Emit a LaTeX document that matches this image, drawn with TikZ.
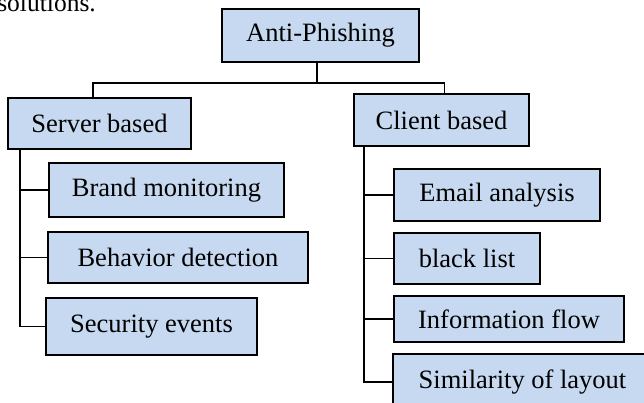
\documentclass[tikz,border=0pt]{standalone}
\usepackage{fontspec}
\setmainfont{Liberation Serif}
\usetikzlibrary{positioning}
\definecolor{boxblue}{RGB}{198,217,240}
\tikzstyle{cat_box}=[draw=black, fill=boxblue, line width=2pt, inner sep=0pt,
    font=\fontsize{26.5}{28}\selectfont]
\tikzstyle{tree_line}=[line width=1.8pt]

\begin{document}
\begin{tikzpicture}[x=1pt,y=-1pt]
\useasboundingbox (0,0) rectangle (644,402);
\clip (0,0) rectangle (644,402);
\node[anchor=base east, inner sep=0pt, font=\fontsize{25.5}{28}\selectfont] (sol) at (96,11){solutions.};
\node[cat_box, minimum width=197pt, minimum height=53pt] (anti) at (320.5,35){Anti-Phishing};
\node[cat_box, minimum width=183pt, minimum height=51pt] (server) at (99.5,123.5){Server based};
\node[cat_box, minimum width=175pt, minimum height=52pt] (client) at (441.5,120){Client based};
\node[cat_box, minimum width=235pt, minimum height=54pt] (brand) at (166.5,190){Brand monitoring};
\node[cat_box, minimum width=260pt, minimum height=51pt] (behav) at (178,257.5){Behavior detection};
\node[cat_box, minimum width=211pt, minimum height=57pt] (secur) at (151.5,326.5){Security events};
\node[cat_box, minimum width=206pt, minimum height=52pt] (email) at (497,195){Email analysis};
\node[cat_box, minimum width=146pt, minimum height=51pt] (black) at (467,258.5){black list};
\node[cat_box, minimum width=230pt, minimum height=46pt] (info) at (509,319){Information flow};
\node[cat_box, minimum width=259pt, minimum height=56pt] (simil) at (522.5,382){Similarity of layout};
\coordinate (fork) at (317,83);
\draw[tree_line] ([xshift=-3.5pt]anti.south) -- (fork);
\draw[tree_line] ([xshift=-6.5pt]server.north) |- (fork) -| ([xshift=3pt]client.north);
\draw[tree_line] ([xshift=13pt]server.south west) |- (brand.west);
\draw[tree_line] ([xshift=13pt]server.south west) |- (behav.west);
\draw[tree_line] ([xshift=13pt]server.south west) |- (secur.west);
\draw[tree_line] ([xshift=11pt]client.south west) |- (email.west);
\draw[tree_line] ([xshift=11pt]client.south west) |- (black.west);
\draw[tree_line] ([xshift=11pt]client.south west) |- (info.west);
\draw[tree_line] ([xshift=11pt]client.south west) |- (simil.west);
\end{tikzpicture}
\end{document}
